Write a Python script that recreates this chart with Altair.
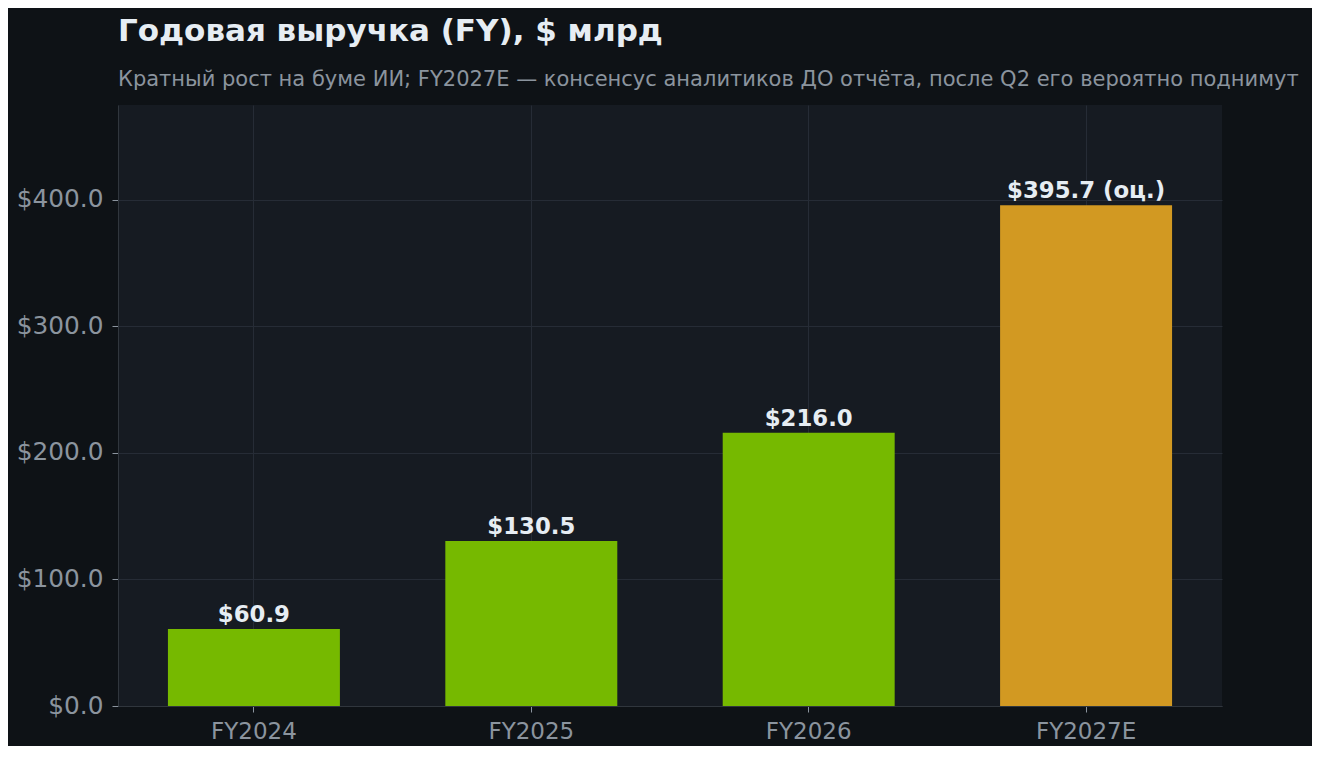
import altair as alt
import pandas as pd

YEARS = ["FY2024", "FY2025", "FY2026", "FY2027E"]
REVENUE = [60.9, 130.5, 216.0, 395.7]
KIND = ["факт", "факт", "факт", "оценка"]
LABELS = ["$60.9", "$130.5", "$216.0", "$395.7 (оц.)"]

BG = "#0e1216"
PLOT_BG = "#161b22"
GRID = "#262c36"
MUTED = "#8b949e"
TEXT = "#e6edf3"
FONT = "DejaVu Sans"

df = pd.DataFrame({"year": YEARS, "revenue": REVENUE, "kind": KIND, "label": LABELS})

base = alt.Chart(df).encode(
    x=alt.X(
        "year:N",
        sort=YEARS,
        title=None,
        scale=alt.Scale(paddingInner=0.38, paddingOuter=0.18),
        axis=alt.Axis(
            labelAngle=0, labelFontSize=23, labelColor=MUTED, labelPadding=8,
            tickSize=6, tickColor=MUTED, domainColor="#30363d",
            grid=True, gridColor=GRID, labelFont=FONT,
        ),
    ),
    y=alt.Y(
        "revenue:Q",
        title=None,
        scale=alt.Scale(domain=[0, 475], nice=False),
        axis=alt.Axis(
            values=[0, 100, 200, 300, 400], format="$.1f",
            labelFontSize=24.8, labelColor=MUTED, labelPadding=9,
            tickSize=6, tickColor=MUTED, domainColor="#30363d",
            gridColor=GRID, labelFont=FONT,
        ),
    ),
)

bars = base.mark_bar().encode(
    color=alt.Color(
        "kind:N",
        scale=alt.Scale(domain=["факт", "оценка"], range=["#76b900", "#d29922"]),
        legend=None,
    )
)

text = base.mark_text(
    baseline="alphabetic", dy=-7, fontSize=22.8, fontWeight="bold", color=TEXT, font=FONT
).encode(text="label:N")

chart = (bars + text).properties(
    width=1104,
    height=601,
    autosize=alt.AutoSizeParams(type="none"),
    padding={"left": 110, "top": 97, "right": 90, "bottom": 40},
    background=BG,
    title=alt.TitleParams(
        "Годовая выручка (FY), $ млрд",
        subtitle="Кратный рост на буме ИИ; FY2027E — консенсус аналитиков ДО отчёта, после Q2 его вероятно поднимут",
        anchor="start",
        frame="group",
        font=FONT,
        fontSize=31,
        fontWeight="bold",
        color=TEXT,
        subtitleFont=FONT,
        subtitleFontSize=21,
        subtitleColor=MUTED,
        subtitlePadding=21,
        offset=14,
    ),
).configure_view(fill=PLOT_BG, stroke=None)

chart.save("out.html", embed_options={"renderer": "svg", "actions": False})
